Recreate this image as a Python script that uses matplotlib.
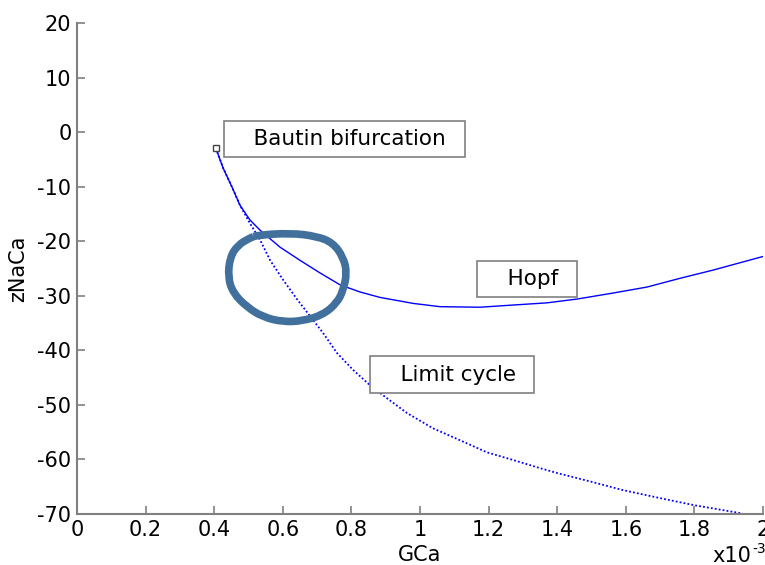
import numpy as np
import matplotlib.pyplot as plt
from matplotlib.path import Path
from matplotlib.patches import PathPatch

# =========================================================
# DATA (GCa in units of 1e-3)
# =========================================================

hopf_gca = [0.405, 0.426, 0.452, 0.475, 0.504, 0.534, 0.592, 0.650, 0.708, 0.767,
            0.825, 0.883, 0.980, 1.058, 1.175, 1.271, 1.370, 1.458, 1.563, 1.662,
            1.758, 1.854, 2.0]
hopf_zna = [-3.0, -6.6, -10.1, -13.4, -16.1, -18.0, -21.1, -23.5, -25.8, -28.0,
            -29.3, -30.3, -31.4, -32.0, -32.1, -31.7, -31.3, -30.6, -29.5, -28.4,
            -26.8, -25.3, -22.8]

lc_gca = [0.405, 0.426, 0.452, 0.475, 0.504, 0.534, 0.563, 0.601, 0.641, 0.679,
          0.717, 0.758, 0.805, 0.854, 0.904, 0.962, 1.038, 1.117, 1.195, 1.271,
          1.350, 1.40, 1.50, 1.59, 1.70, 1.80, 1.93, 1.96]
lc_zna = [-3.0, -6.6, -10.1, -13.4, -16.7, -19.8, -23.5, -27.1, -30.6, -33.7,
          -36.8, -40.5, -43.6, -46.4, -48.8, -51.5, -54.3, -56.5, -58.7, -60.1,
          -61.6, -62.5, -64.1, -65.6, -67.1, -68.4, -69.8, -70.3]

bautin = (0.405, -3.0)

# hand drawn ring around the crossing
ring_gca = [0.525, 0.621, 0.700, 0.746, 0.776, 0.787, 0.776, 0.758, 0.717, 0.659,
            0.601, 0.542, 0.496, 0.455, 0.440, 0.446, 0.469, 0.504]
ring_zna = [-18.9, -18.5, -19.1, -20.3, -22.9, -25.8, -29.0, -31.3, -33.5, -34.6,
            -34.8, -33.9, -32.1, -29.5, -26.6, -22.9, -20.7, -19.4]

labels = ["Bautin bifurcation", "Hopf", "Limit cycle"]
label_pos = [(0.453, -1.3), (1.191, -26.9), (0.879, -44.45)]

xticks = [0, 0.2, 0.4, 0.6, 0.8, 1, 1.2, 1.4, 1.6, 1.8, 2]
yticks = [20, 10, 0, -10, -20, -30, -40, -50, -60, -70]

# =========================================================
# PLOT
# =========================================================

fig = plt.figure(figsize=(7.65, 5.65), dpi=100)
ax = fig.add_axes([0.1007, 0.0903, 0.8967, 0.869])

ax.plot(hopf_gca, hopf_zna, color="#0000ff", lw=1.0)
ax.plot(lc_gca, lc_zna, color="#0000ff", lw=1.3, linestyle=(0, (1, 1.2)))
ax.plot(*bautin, marker="s", ms=4, mfc="white", mec="#444444", mew=1)

# closed smooth outline through the ring points (quadratic segments)
pts = np.column_stack([ring_gca, ring_zna])
mids = (pts + np.roll(pts, -1, axis=0)) / 2
verts = [mids[-1]]
codes = [Path.MOVETO]
for p, m in zip(pts, mids):
    verts += [p, m]
    codes += [Path.CURVE3, Path.CURVE3]
ring = PathPatch(Path(verts, codes), fc="none", ec="#41709c", lw=5.5,
                 joinstyle="round", zorder=3)
ax.add_patch(ring)

for txt, (tx, ty) in zip(labels, label_pos):
    ax.text(tx, ty, "\u2002\u2002" + txt + "\u2002", fontsize=15.5, ha="left",
            va="center", zorder=4,
            bbox=dict(boxstyle="square,pad=0.38", fc="white", ec="#808080", lw=1.2))

ax.set_xlim(0, 2)
ax.set_ylim(-70, 20)
ax.set_xticks(xticks)
ax.set_xticklabels([f"{v:g}" for v in xticks])
ax.set_yticks(yticks)
ax.set_yticklabels([str(v) for v in yticks])

for side in ["top", "right"]:
    ax.spines[side].set_visible(False)
for side in ["left", "bottom"]:
    ax.spines[side].set_color("#808080")
    ax.spines[side].set_linewidth(1.5)

ax.tick_params(direction="in", length=6, width=1.2, color="#808080",
               labelsize=15, pad=4)

ax.set_xlabel("GCa", fontsize=15)
ax.set_ylabel("zNaCa", fontsize=15)
ax.xaxis.set_label_coords(0.5, -0.063)
ax.yaxis.set_label_coords(-0.072, 0.5)

# axis multiplier, cut at the right edge as in the original
fig.text(0.9307, 0.0053, "x10", fontsize=15, ha="left", va="baseline")
fig.text(0.983, 0.021, "-3", fontsize=10, ha="left", va="baseline")

plt.savefig("out.png", dpi=100)
